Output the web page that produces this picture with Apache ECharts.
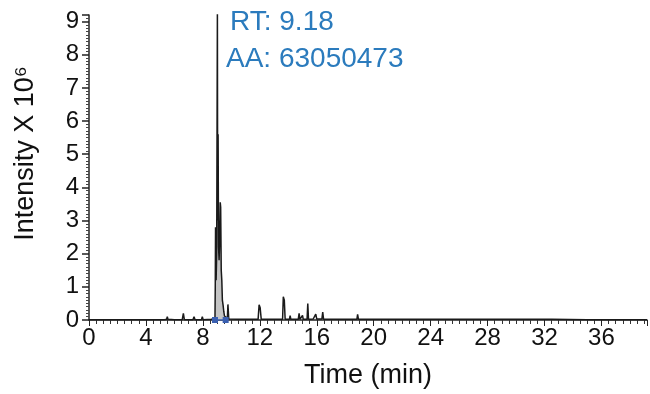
<!DOCTYPE html>
<html>
<head>
<meta charset="utf-8">
<script src="https://cdn.jsdelivr.net/npm/echarts@6/dist/echarts.min.js"></script>
<style>html,body{margin:0;padding:0;background:#fff}#c{width:650px;height:394px}</style>
</head>
<body>
<div id="c"></div>
<script>
// Chromatogram data (time in min, intensity x 10^6)
const times = [
  0, 1.2, 2.5, 3.4, 4.6, 5.3, 5.45, 5.5, 5.55, 6.0, 6.55, 6.63, 6.7, 7.3, 7.38, 7.45, 7.9, 7.96, 8.02, 8.6,
  8.85, 8.87, 8.89, 8.93, 8.97, 9.02, 9.04, 9.07, 9.1, 9.14, 9.18, 9.22, 9.25, 9.29, 9.33, 9.37, 9.42, 9.47, 9.52, 9.56, 9.6,
  9.66, 9.72, 9.76, 9.82, 10.4, 11.0, 11.88, 11.95, 12.02, 12.1, 12.45, 12.5, 12.55, 13.1, 13.6, 13.65, 13.72, 13.78,
  14.08, 14.13, 14.18, 14.7, 14.76, 14.82, 14.95, 15.0, 15.05, 15.32, 15.37, 15.42, 15.75, 15.8, 15.85, 15.93, 16.0,
  16.36, 16.42, 16.48, 16.7, 17.5, 18.3, 18.82, 18.87, 18.93, 19.5, 19.57, 19.64, 20.5, 21.42, 21.48, 21.54, 21.86,
  21.9, 21.95, 22.44, 22.48, 22.53, 23.6, 25.05, 25.1, 25.15, 26.33, 26.38, 26.43, 28.0, 30.25, 30.3, 30.35, 32.5, 35.0, 37.5, 39.2
];
const intensity = [
  0.01, 0.01, 0.01, 0.01, 0.01, 0.01, 0.02, 0.1, 0.02, 0.01, 0.01, 0.2, 0.01, 0.01, 0.1, 0.01, 0.01, 0.1, 0.01, 0.02,
  0.05, 1.0, 2.8, 1.2, 2.0, 9.4, 3.0, 5.6, 2.2, 1.8, 2.4, 3.55, 3.4, 1.5, 1.2, 0.6, 0.45, 0.25, 0.12, 0.15, 0.06,
  0.1, 0.05, 0.47, 0.03, 0.02, 0.02, 0.02, 0.46, 0.38, 0.02, 0.02, 0.08, 0.02, 0.02, 0.02, 0.7, 0.6, 0.02,
  0.02, 0.13, 0.02, 0.02, 0.2, 0.02, 0.02, 0.14, 0.02, 0.02, 0.5, 0.02, 0.03, 0.08, 0.03, 0.18, 0.03,
  0.03, 0.24, 0.02, 0.02, 0.02, 0.02, 0.02, 0.17, 0.02, 0.02, 0.07, 0.02, 0.02, 0.02, 0.05, 0.02, 0.02,
  0.03, 0.02, 0.02, 0.04, 0.02, 0.02, 0.02, 0.03, 0.02, 0.02, 0.03, 0.02, 0.02, 0.02, 0.03, 0.02, 0.02, 0.01, 0.01, 0.01
];
const peakStart = 8.85;
const peakEnd = 9.6;
const xTickLabels = [0, 4, 8, 12, 16, 20, 24, 28, 32, 36];
const yTickLabels = [0, 1, 2, 3, 4, 5, 6, 7, 8, 9];
const annotations = ['RT: 9.18', 'AA: 63050473'];

const lineData = times.map((t, i) => [t, intensity[i]]);
const areaData = lineData.filter(p => p[0] >= peakStart && p[0] <= peakEnd);

const font = 'Liberation Sans, Arial, Helvetica, sans-serif';
const chart = echarts.init(document.getElementById('c'), null, {renderer: 'canvas'});
chart.setOption({
  animation: false,
  grid: {left: 89, right: 1, top: 15, bottom: 73, containLabel: false},
  xAxis: {
    type: 'value', min: 0, max: 39.2, interval: 4,
    name: 'Time (min)', nameLocation: 'middle', nameGap: 42,
    nameTextStyle: {fontFamily: font, fontSize: 27, color: '#111'},
    axisLine: {show: true, onZero: false, lineStyle: {color: '#222', width: 1.5}},
    axisTick: {show: true, length: 6, lineStyle: {color: '#222', width: 1}},
    minorTick: {show: true, splitNumber: 8, length: 4, lineStyle: {color: '#333', width: 1}},
    splitLine: {show: false},
    axisLabel: {
      fontFamily: font, fontSize: 24, color: '#111', margin: 6,
      formatter: v => xTickLabels.includes(v) ? String(v) : ''
    }
  },
  yAxis: {
    type: 'value', min: 0, max: 9.2, interval: 1,
    name: 'Intensity X 10\u2076', nameLocation: 'middle', nameGap: 50, nameRotate: 90,
    nameTextStyle: {fontFamily: font, fontSize: 27, color: '#111', padding: [0, 0, 0, 28]},
    axisLine: {show: true, lineStyle: {color: '#222', width: 1.5}},
    axisTick: {show: true, length: 7, lineStyle: {color: '#222', width: 1.5}},
    minorTick: {show: true, splitNumber: 10, length: 3, lineStyle: {color: '#444', width: 1}},
    splitLine: {show: false},
    axisLabel: {
      fontFamily: font, fontSize: 24, color: '#111', margin: 10,
      formatter: v => yTickLabels.includes(v) ? String(v) : ''
    }
  },
  series: [
    {
      type: 'line', data: areaData, symbol: 'none', z: 1,
      lineStyle: {width: 0}, areaStyle: {color: '#c4c4c4', opacity: 1}
    },
    {
      type: 'line', data: lineData, symbol: 'none', z: 2,
      lineStyle: {color: '#1a1a1a', width: 1.5}
    },
    {
      type: 'line', data: [[peakStart, 0], [peakEnd, 0]], z: 3,
      symbol: 'rect', symbolSize: 6,
      itemStyle: {color: '#3a5fb0'}, lineStyle: {color: '#3a5fb0', width: 1.5}
    }
  ],
  graphic: [
    {type: 'text', left: 230, top: 8, style: {text: annotations[0], fontFamily: font, fontSize: 28, fill: '#2b7bbd'}},
    {type: 'text', left: 226, top: 45, style: {text: annotations[1], fontFamily: font, fontSize: 28, fill: '#2b7bbd'}}
  ]
});
</script>
</body>
</html>
